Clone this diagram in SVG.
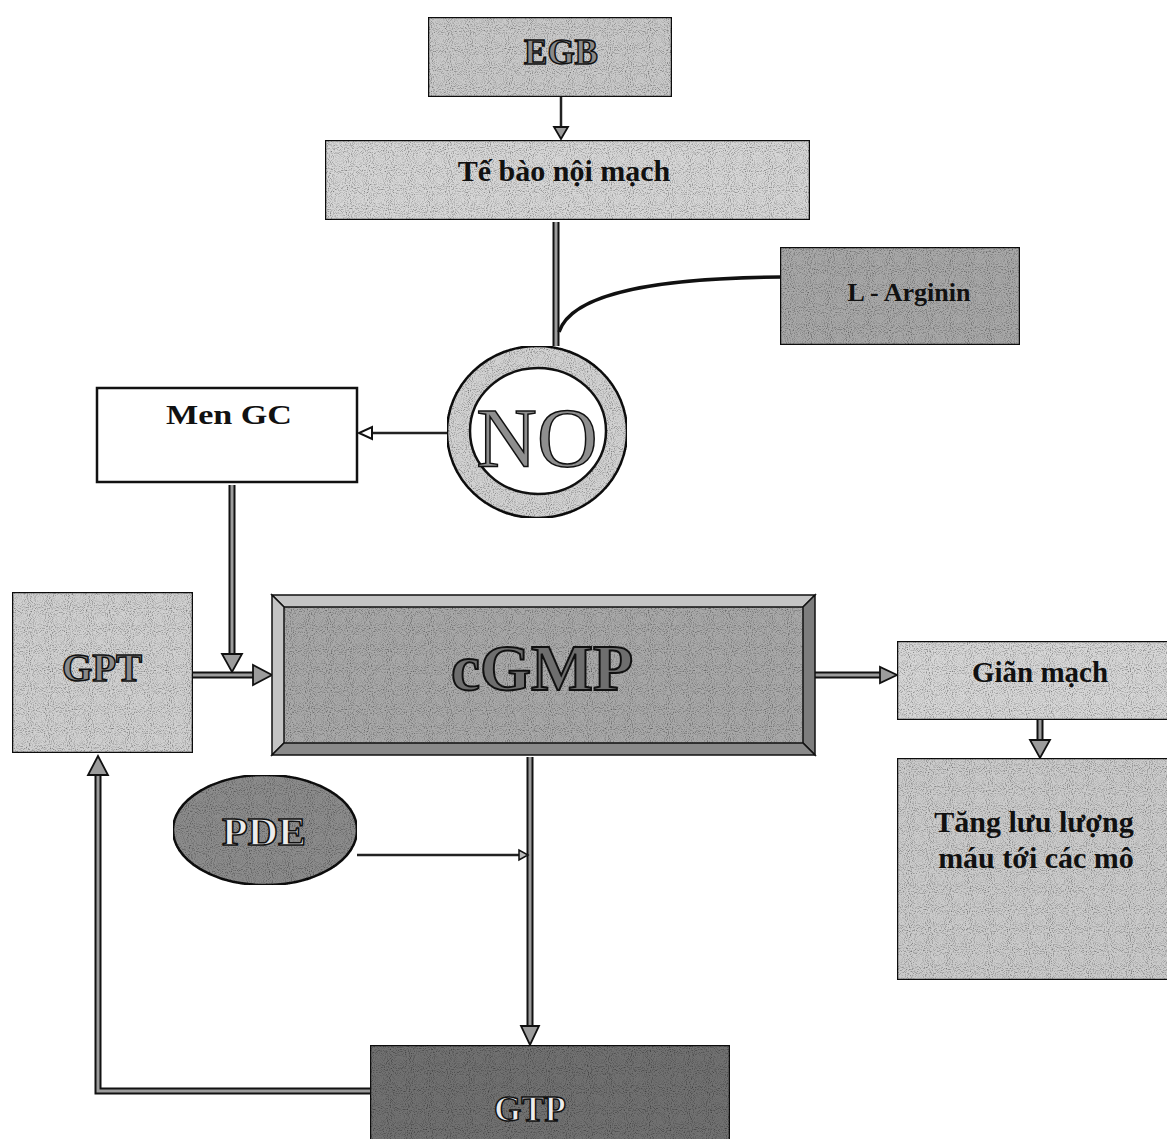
<svg xmlns="http://www.w3.org/2000/svg" width="1167" height="1139" viewBox="0 0 1167 1139">
  <defs>
    <!-- speckled print texture for the shaded shapes -->
    <filter id="grain" x="0" y="0" width="100%" height="100%">
      <feTurbulence type="fractalNoise" baseFrequency="0.95" numOctaves="1" seed="4" result="noise"/>
      <feColorMatrix in="noise" type="matrix" values="0 0 0 0 0  0 0 0 0 0  0 0 0 0 0  0 0 0 -3 1.6" result="dots"/>
      <feComposite in="dots" in2="SourceGraphic" operator="in" result="spots"/>
      <feComponentTransfer in="spots" result="soft"><feFuncA type="linear" slope="0.7"/></feComponentTransfer>
      <feMerge><feMergeNode in="SourceGraphic"/><feMergeNode in="soft"/></feMerge>
    </filter>
    <style>
      .box { stroke: #111; stroke-width: 2.5; }
      .lbl { font-family: "Liberation Serif", "DejaVu Serif", serif; font-weight: bold; text-anchor: middle; fill: #111; }
      .hollow { font-family: "Liberation Serif", "DejaVu Serif", serif; font-weight: bold; text-anchor: middle; fill: #8a8a8a; stroke: #111; stroke-width: 1.5; }
      .pale { fill: #ececec; }
      .barOut { fill: none; stroke: #111; stroke-width: 7; }
      .barIn { fill: none; stroke: #9c9c9c; stroke-width: 3; }
      .head { fill: #9c9c9c; stroke: #111; stroke-width: 1.8; stroke-linejoin: miter; }
      .thin { fill: none; stroke: #222; stroke-width: 2.5; }
    </style>
  </defs>

  <rect width="1167" height="1139" fill="#ffffff"/>

  <!-- connectors -->
  <g id="connectors">
    <!-- EGB to endothelial cell -->
    <line x1="561" y1="97" x2="561" y2="128" class="thin" stroke-width="3"/>
    <polygon points="554,127 568,127 561,139" class="head"/>
    <!-- endothelial cell down to NO -->
    <path d="M556,222 V346" class="barOut"/>
    <path d="M556,222 V346" class="barIn"/>
    <!-- L-Arginin joins the stem -->
    <path d="M781,277 C 660,278 572,292 559,332" fill="none" stroke="#111" stroke-width="3.5"/>
    <!-- NO to Men GC -->
    <line x1="447" y1="433" x2="370" y2="433" class="thin"/>
    <polygon points="372,427 372,439 359,433" fill="#fff" stroke="#111" stroke-width="2"/>
    <!-- Men GC down to the GPT/cGMP link -->
    <path d="M232,485 V655" class="barOut"/>
    <path d="M232,485 V655" class="barIn"/>
    <polygon points="222,654 242,654 232,672" class="head"/>
    <!-- GPT to cGMP -->
    <path d="M193,675 H254" class="barOut"/>
    <path d="M193,675 H254" class="barIn"/>
    <polygon points="253,665 253,685 272,675" class="head"/>
    <!-- cGMP to vasodilation -->
    <path d="M815,675 H882" class="barOut"/>
    <path d="M815,675 H882" class="barIn"/>
    <polygon points="880,667 880,683 897,675" class="head"/>
    <!-- vasodilation to blood flow -->
    <path d="M1040,720 V742" class="barOut"/>
    <path d="M1040,720 V742" class="barIn"/>
    <polygon points="1030,740 1050,740 1040,758" class="head"/>
    <!-- cGMP down to GTP -->
    <path d="M530,757 V1028" class="barOut"/>
    <path d="M530,757 V1028" class="barIn"/>
    <polygon points="521,1026 539,1026 530,1045" class="head"/>
    <!-- PDE acting on the cGMP stem -->
    <line x1="357" y1="855" x2="520" y2="855" class="thin"/>
    <polygon points="519,850 519,860 528,855" fill="#bbb" stroke="#111" stroke-width="1.5"/>
    <!-- GTP back to GPT -->
    <path d="M370,1091 H98 V773" class="barOut"/>
    <path d="M370,1091 H98 V773" class="barIn"/>
    <polygon points="88,775 108,775 98,756" class="head"/>
  </g>

  <g id="egb">
    <rect x="428" y="17" width="244" height="80" fill="#c9c9c9" class="box" filter="url(#grain)"/>
    <text x="561" y="64" class="hollow" font-size="35">EGB</text>
  </g>

  <g id="te-bao-noi-mach">
    <rect x="325" y="140" width="485" height="80" fill="#d6d6d6" class="box" filter="url(#grain)"/>
    <text x="564" y="181" class="lbl" font-size="30">Tế bào nội mạch</text>
  </g>

  <g id="l-arginin">
    <rect x="780" y="247" width="240" height="98" fill="#a8a8a8" class="box" filter="url(#grain)"/>
    <text x="909" y="301" class="lbl" font-size="26">L - Arginin</text>
  </g>

  <g id="no">
    <ellipse cx="537" cy="432" rx="90" ry="86" fill="#d2d2d2" stroke="#111" stroke-width="2.5" filter="url(#grain)"/>
    <ellipse cx="538" cy="431" rx="68" ry="63" fill="#ffffff" stroke="#111" stroke-width="2.5"/>
    <text x="537" y="467" font-family="'Liberation Serif', 'DejaVu Serif', serif" font-size="84" text-anchor="middle" fill="#8e8e8e" stroke="#111" stroke-width="1.5">NO</text>
  </g>

  <g id="men-gc">
    <rect x="97" y="388" width="260" height="94" fill="#ffffff" class="box"/>
    <text x="229" y="424" class="lbl" font-size="28" textLength="126" lengthAdjust="spacingAndGlyphs">Men GC</text>
  </g>

  <g id="gpt">
    <rect x="12" y="592" width="181" height="161" fill="#d0d0d0" class="box" filter="url(#grain)"/>
    <text x="102" y="681" class="hollow" font-size="39">GPT</text>
  </g>

  <g id="cgmp">
    <rect x="272" y="595" width="543" height="160" fill="#a9a9a9" class="box" filter="url(#grain)"/>
    <!-- bevel faces -->
    <polygon points="272,595 815,595 803,607 284,607" fill="#c4c4c4" stroke="#111" stroke-width="1.5"/>
    <polygon points="272,595 284,607 284,743 272,755" fill="#c4c4c4" stroke="#111" stroke-width="1.5"/>
    <polygon points="815,595 815,755 803,743 803,607" fill="#7d7d7d" stroke="#111" stroke-width="1.5"/>
    <polygon points="272,755 284,743 803,743 815,755" fill="#8a8a8a" stroke="#111" stroke-width="1.5"/>
    <text x="542" y="690" class="hollow" font-size="66" textLength="182" lengthAdjust="spacingAndGlyphs" style="fill:#6e6e6e; stroke-width:2">cGMP</text>
  </g>

  <g id="gian-mach">
    <rect x="897" y="641" width="272" height="79" fill="#d6d6d6" class="box" filter="url(#grain)"/>
    <text x="1040" y="682" class="lbl" font-size="29">Giãn mạch</text>
  </g>

  <g id="tang-luu-luong">
    <rect x="897" y="758" width="272" height="222" fill="#cbcbcb" class="box" filter="url(#grain)"/>
    <text x="1034" y="832" class="lbl" font-size="30">Tăng lưu lượng</text>
    <text x="1036" y="868" class="lbl" font-size="30">máu tới các mô</text>
  </g>

  <g id="pde">
    <ellipse cx="265" cy="830" rx="92" ry="55" fill="#8c8c8c" stroke="#111" stroke-width="2.5" filter="url(#grain)"/>
    <text x="264" y="845" class="hollow pale" font-size="40" textLength="84" lengthAdjust="spacingAndGlyphs" style="fill:#ececec">PDE</text>
  </g>

  <g id="gtp">
    <rect x="370" y="1045" width="360" height="100" fill="#717171" class="box" filter="url(#grain)"/>
    <text x="530" y="1121" class="hollow pale" font-size="35" style="fill:#ececec">GTP</text>
  </g>
</svg>
